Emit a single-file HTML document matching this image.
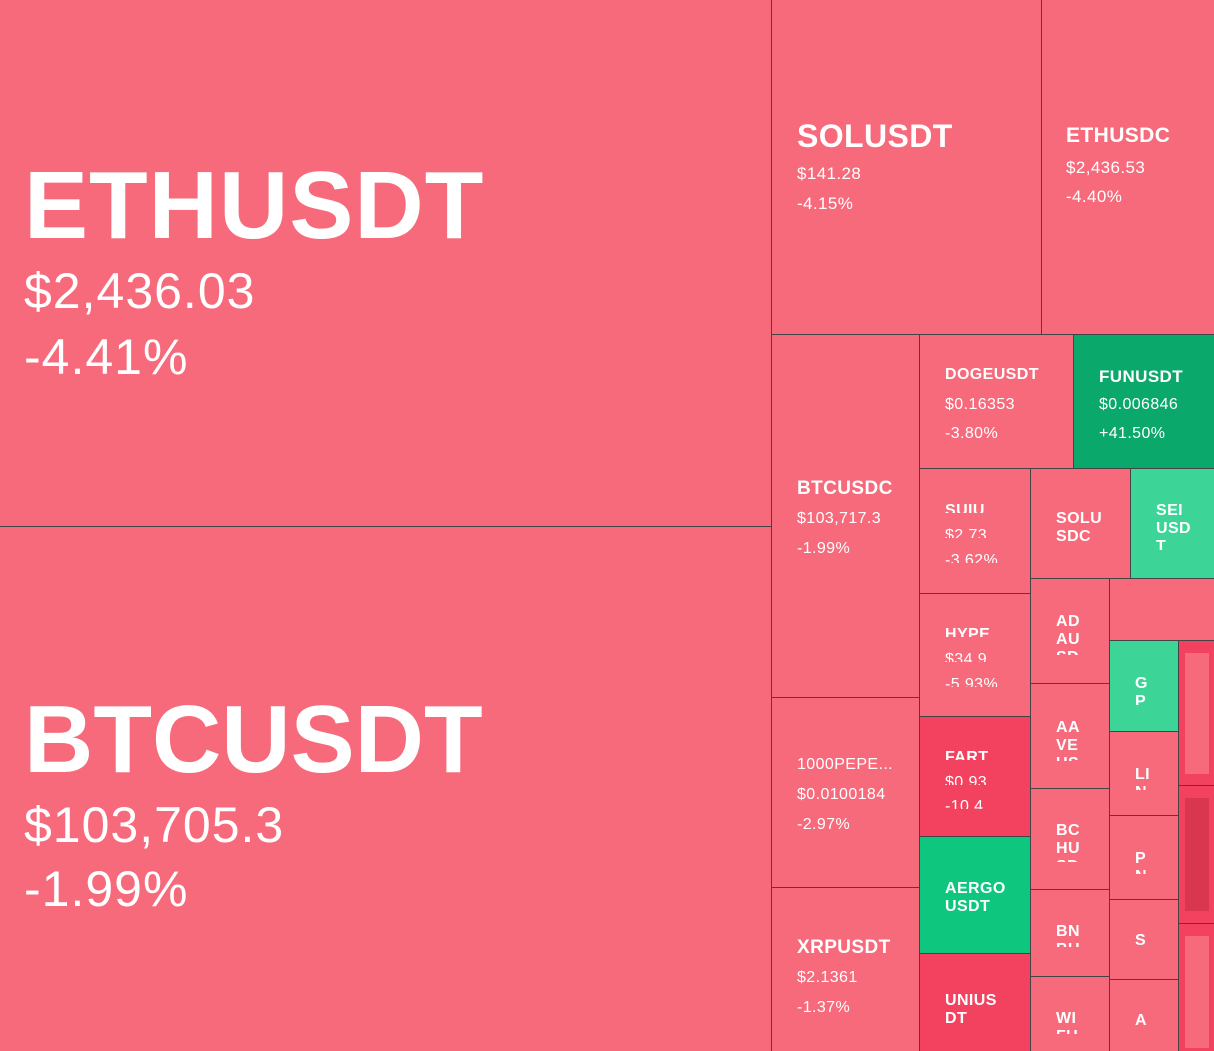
<!DOCTYPE html>
<html><head><meta charset="utf-8"><style>
*{margin:0;padding:0;box-sizing:border-box}
body{width:1214px;height:1051px;position:relative;overflow:hidden;background:#444;font-family:"Liberation Sans",sans-serif}
.b{position:absolute;background:#f66a7b;overflow:hidden}
.r{background:#f3425f}
.g1{background:#0aa86b}
.g2{background:#3dd498}
.g3{background:#0fc67e}
.t{position:absolute;color:#fff;line-height:1;white-space:nowrap;transform-origin:0 0;letter-spacing:0.4px}
.bd{font-weight:bold}
.c{overflow:hidden}
</style></head><body>
<div class="b" style="left:0;top:0;width:771px;height:526px"></div>
<div class="b" style="left:0;top:527px;width:771px;height:524px"></div>
<div class="b" style="left:772px;top:0;width:269px;height:334px"></div>
<div class="b" style="left:1042px;top:0;width:172px;height:334px"></div>
<div class="b" style="left:772px;top:335px;width:147px;height:362px"></div>
<div class="b" style="left:772px;top:698px;width:147px;height:189px"></div>
<div class="b" style="left:772px;top:888px;width:147px;height:163px"></div>
<div class="b" style="left:920px;top:335px;width:153px;height:133px"></div>
<div class="b g1" style="left:1074px;top:335px;width:140px;height:133px"></div>
<div class="b" style="left:920px;top:469px;width:110px;height:124px"></div>
<div class="b" style="left:1031px;top:469px;width:99px;height:109px"></div>
<div class="b g2" style="left:1131px;top:469px;width:83px;height:109px"></div>
<div class="b" style="left:920px;top:594px;width:110px;height:122px"></div>
<div class="b r" style="left:920px;top:717px;width:110px;height:119px"></div>
<div class="b g3" style="left:920px;top:837px;width:110px;height:116px"></div>
<div class="b r" style="left:920px;top:954px;width:110px;height:97px"></div>
<div class="b" style="left:1031px;top:579px;width:78px;height:104px"></div>
<div class="b" style="left:1031px;top:684px;width:78px;height:104px"></div>
<div class="b" style="left:1031px;top:789px;width:78px;height:100px"></div>
<div class="b" style="left:1031px;top:890px;width:78px;height:86px"></div>
<div class="b" style="left:1031px;top:977px;width:78px;height:74px"></div>
<div class="b" style="left:1110px;top:579px;width:104px;height:61px"></div>
<div class="b g2" style="left:1110px;top:641px;width:68px;height:90px"></div>
<div class="b" style="left:1110px;top:732px;width:68px;height:83px"></div>
<div class="b" style="left:1110px;top:816px;width:68px;height:83px"></div>
<div class="b" style="left:1110px;top:900px;width:68px;height:79px"></div>
<div class="b" style="left:1110px;top:980px;width:68px;height:71px"></div>
<div class="b r" style="left:1179px;top:641px;width:35px;height:144px"><div style="position:absolute;left:6px;top:12px;width:24px;height:121px;background:#f66a7b"></div></div>
<div class="b r" style="left:1179px;top:786px;width:35px;height:137px"><div style="position:absolute;left:6px;top:12px;width:24px;height:113px;background:#d8374f"></div></div>
<div class="b r" style="left:1179px;top:924px;width:35px;height:127px"><div style="position:absolute;left:6px;top:12px;width:24px;height:112px;background:#f66a7b"></div></div>

<div class="t bd" style="left:24px;top:158px;font-size:96px;letter-spacing:1px">ETHUSDT</div>
<div class="t" style="left:24px;top:266px;font-size:50px;letter-spacing:1px">$2,436.03</div>
<div class="t" style="left:24px;top:332px;font-size:50px;letter-spacing:1px">-4.41%</div>
<div class="t bd" style="left:24px;top:692px;font-size:96px;letter-spacing:0">BTCUSDT</div>
<div class="t" style="left:24px;top:800px;font-size:50px;letter-spacing:1px">$103,705.3</div>
<div class="t" style="left:24px;top:864px;font-size:50px;letter-spacing:1px">-1.99%</div>

<div class="t bd" style="left:797px;top:120px;font-size:32px">SOLUSDT</div>
<div class="t" style="left:797px;top:165px;font-size:17px">$141.28</div>
<div class="t" style="left:797px;top:195px;font-size:17px">-4.15%</div>
<div class="t bd" style="left:1066px;top:125px;font-size:21px">ETHUSDC</div>
<div class="t" style="left:1066px;top:159px;font-size:17px">$2,436.53</div>
<div class="t" style="left:1066px;top:188px;font-size:17px">-4.40%</div>

<div class="t bd" style="left:797px;top:479px;font-size:19px">BTCUSDC</div>
<div class="t" style="left:797px;top:511px;font-size:16px">$103,717.3</div>
<div class="t" style="left:797px;top:541px;font-size:16px">-1.99%</div>
<div class="t" style="left:797px;top:757px;font-size:16px">1000PEPE...</div>
<div class="t" style="left:797px;top:787px;font-size:16px">$0.0100184</div>
<div class="t" style="left:797px;top:817px;font-size:16px">-2.97%</div>
<div class="t bd" style="left:797px;top:938px;font-size:19px">XRPUSDT</div>
<div class="t" style="left:797px;top:970px;font-size:16px">$2.1361</div>
<div class="t" style="left:797px;top:1000px;font-size:16px">-1.37%</div>

<div class="t bd" style="left:945px;top:367px;font-size:16px">DOGEUSDT</div>
<div class="t" style="left:945px;top:397px;font-size:16px">$0.16353</div>
<div class="t" style="left:945px;top:426px;font-size:16px">-3.80%</div>
<div class="t bd" style="left:1099px;top:368px;font-size:17px">FUNUSDT</div>
<div class="t" style="left:1099px;top:397px;font-size:16px">$0.006846</div>
<div class="t" style="left:1099px;top:426px;font-size:16px">+41.50%</div>

<div class="t bd c" style="left:945px;top:503px;font-size:16px;height:10px">SUIU</div>
<div class="t c" style="left:945px;top:528px;font-size:16px;height:10px">$2.73</div>
<div class="t c" style="left:945px;top:553px;font-size:16px;height:10px">-3.62%</div>
<div class="t bd" style="left:1056px;top:510px;font-size:16px;line-height:18px">SOLU<br>SDC</div>
<div class="t bd" style="left:1156px;top:502px;font-size:16px;line-height:18px;height:48px;overflow:hidden">SEI<br>USD<br>T</div>
<div class="t bd c" style="left:945px;top:627px;font-size:16px;height:10px">HYPE</div>
<div class="t c" style="left:945px;top:652px;font-size:16px;height:10px">$34.9</div>
<div class="t c" style="left:945px;top:677px;font-size:16px;height:10px">-5.93%</div>
<div class="t bd c" style="left:945px;top:750px;font-size:16px;height:10px">FART</div>
<div class="t c" style="left:945px;top:775px;font-size:16px;height:10px">$0.93</div>
<div class="t c" style="left:945px;top:799px;font-size:16px;height:10px">-10.4</div>
<div class="t bd" style="left:945px;top:880px;font-size:16px;line-height:18px">AERGO<br>USDT</div>
<div class="t bd" style="left:945px;top:992px;font-size:16px;line-height:18px">UNIUS<br>DT</div>

<div class="t bd c" style="left:1056px;top:613px;font-size:16px;line-height:18px;height:42px">AD<br>AU<br>SD</div>
<div class="t bd c" style="left:1056px;top:719px;font-size:16px;line-height:18px;height:42px">AA<br>VE<br>US</div>
<div class="t bd c" style="left:1056px;top:822px;font-size:16px;line-height:18px;height:40px">BC<br>HU<br>SD</div>
<div class="t bd c" style="left:1056px;top:923px;font-size:16px;line-height:18px;height:24px">BN<br>BU</div>
<div class="t bd c" style="left:1056px;top:1010px;font-size:16px;line-height:18px;height:24px">WI<br>FU</div>

<div class="t bd c" style="left:1135px;top:675px;font-size:16px;line-height:18px;height:30px">G<br>P</div>
<div class="t bd c" style="left:1135px;top:766px;font-size:16px;line-height:18px;height:24px">LI<br>N</div>
<div class="t bd c" style="left:1135px;top:850px;font-size:16px;line-height:18px;height:24px">P<br>N</div>
<div class="t bd" style="left:1135px;top:933px;font-size:16px">S</div>
<div class="t bd" style="left:1135px;top:1013px;font-size:16px">A</div>
</body></html>
